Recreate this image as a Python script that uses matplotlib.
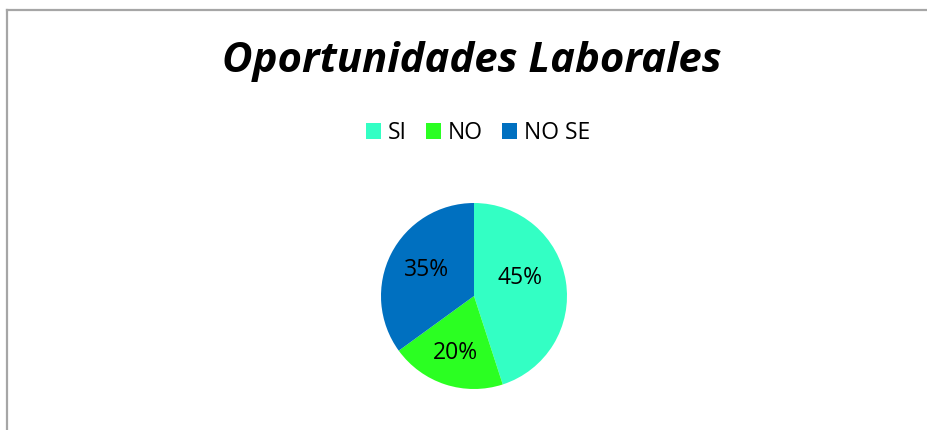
import matplotlib
matplotlib.use("Agg")
import matplotlib.pyplot as plt
from matplotlib.patches import Patch
from matplotlib.lines import Line2D

categories = ["SI", "NO", "NO SE"]
values = [45, 20, 35]
colors = ["#33FFC4", "#2BFF22", "#0070C0"]
title = "Oportunidades Laborales"

W, H = 927, 430
DPI = 100
fig = plt.figure(figsize=(W / DPI, H / DPI), dpi=DPI)
fig.patch.set_facecolor("white")

FONT = "Open Sans"

# frame (only left and top visible)
fig.add_artist(Line2D([7.5 / W, 1.0], [1 - 9.5 / H, 1 - 9.5 / H], color="#A6A6A6", lw=1.6))
fig.add_artist(Line2D([7.5 / W, 7.5 / W], [0, 1 - 9.5 / H], color="#A6A6A6", lw=1.6))

# title
t = fig.text(472 / W, 1 - 62 / H, title, ha="center", va="center",
             fontsize=30, fontweight="bold", fontstyle="italic", family=FONT)
fig.canvas.draw()
bb = t.get_window_extent()
t.set_fontsize(30 * 500 / bb.width)

# pie
cx, cy, r = 474, 296, 93
ax = fig.add_axes([(cx - r) / W, (H - cy - r) / H, 2 * r / W, 2 * r / H])
wedges, _, autotexts = ax.pie(values, colors=colors, startangle=90, counterclock=False,
                              radius=1, autopct=lambda p: f"{p:.0f}%",
                              wedgeprops=dict(linewidth=0),
                              textprops=dict(fontsize=16.5, family=FONT, color="black"))
ax.set_xlim(-1, 1)
ax.set_ylim(-1, 1)
ax.axis("off")
label_pos = [(0.495, 0.194), (-0.204, -0.613), (-0.516, 0.280)]
for txt, pos in zip(autotexts, label_pos):
    txt.set_position(pos)
    txt.set_ha("center")
    txt.set_va("center")

# legend
fs = 16.5
fpx = fs * DPI / 72
handles = [Patch(facecolor=c, edgecolor="none") for c in colors]
leg = fig.legend(handles, categories, loc="center", bbox_to_anchor=(478 / W, 1 - 133 / H),
                 ncol=3, frameon=False, prop=dict(family=FONT, size=fs),
                 handlelength=15 / fpx, handleheight=15 / fpx, handletextpad=7 / fpx,
                 columnspacing=19 / fpx, borderpad=0, borderaxespad=0)

fig.savefig("out.png", dpi=DPI, facecolor="white")
